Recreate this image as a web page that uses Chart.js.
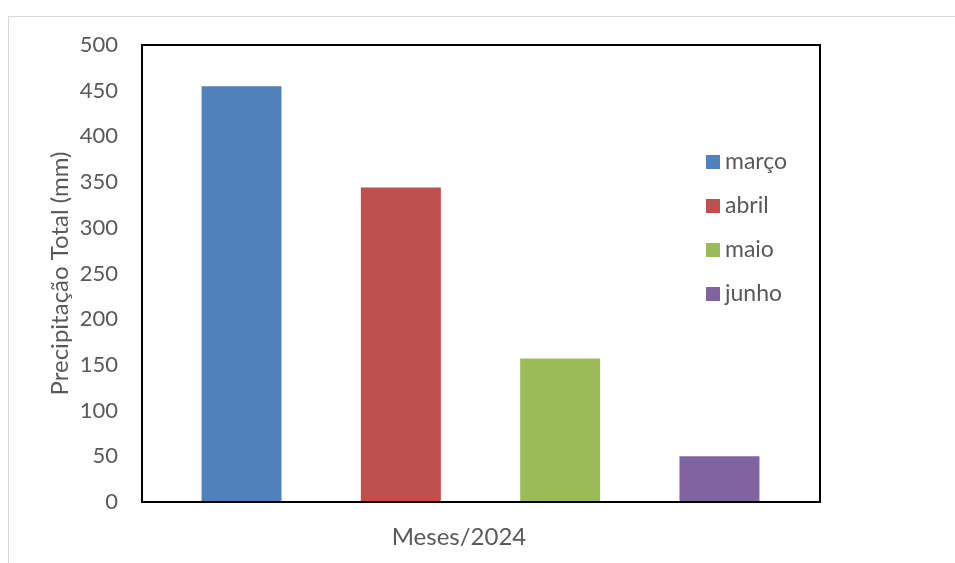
<!DOCTYPE html>
<html lang="pt">

<head>
    <meta charset="UTF-8">
    <title>Precipitação Total</title>
    <script src="https://cdn.jsdelivr.net/npm/chart.js"></script>
    <style>
        body {
            margin: 0;
            padding: 0;
            background: #fff;
            overflow: hidden;
        }

        .frame {
            position: absolute;
            left: 8px;
            top: 16px;
            width: 1000px;
            height: 600px;
            border: 1px solid #d9d9d9;
        }

        #chart {
            position: absolute;
            left: 0;
            top: 0;
        }
    </style>
</head>

<body>
    <div class="frame"></div>
    <canvas id="chart" width="955" height="563"></canvas>

    <script>
        // dados (mm)
        const months = ['março', 'abril', 'maio', 'junho'];
        const rainfall = [455, 344, 157, 50];
        const colors = ['#4F81BD', '#C0504D', '#9BBB59', '#8064A2'];
        const yTicks = [0, 50, 100, 150, 200, 250, 300, 350, 400, 450, 500];

        const textColor = '#595959';
        const family = 'Lato, "Open Sans", sans-serif';
        const tickFont = { family: family, size: 22 };
        const titleFont = { family: family, size: 24 };
        const legendSize = 23;

        // moldura da área do gráfico + legenda dentro da área
        const plotFrame = {
            id: 'plotFrame',
            afterDatasetsDraw(chart) {
                const { ctx, chartArea } = chart;
                ctx.save();
                ctx.strokeStyle = '#000';
                ctx.lineWidth = 2;
                ctx.strokeRect(chartArea.left + 1, chartArea.top, chartArea.right - chartArea.left - 1, chartArea.bottom - chartArea.top);
                ctx.restore();
            },
            afterDraw(chart) {
                const { ctx, chartArea } = chart;
                const x = chartArea.right - 114;
                const y0 = chartArea.top + 117;
                ctx.save();
                ctx.font = `${legendSize}px ${family}`;
                ctx.textBaseline = 'middle';
                chart.data.datasets.forEach((ds, i) => {
                    const y = y0 + i * 44;
                    ctx.fillStyle = ds.backgroundColor;
                    ctx.fillRect(x, y - 7, 14, 14);
                    ctx.fillStyle = textColor;
                    ctx.fillText(ds.label, x + 19, y);
                });
                ctx.restore();
            }
        };

        new Chart(document.getElementById('chart'), {
            type: 'bar',
            data: {
                labels: [''],
                datasets: months.map((m, i) => ({
                    label: m,
                    data: [rainfall[i]],
                    backgroundColor: colors[i],
                    categoryPercentage: 0.9385,
                    barPercentage: 0.502
                }))
            },
            options: {
                responsive: false,
                animation: false,
                layout: {
                    padding: { top: 45, right: 135, left: 0, bottom: 0 }
                },
                plugins: {
                    legend: { display: false },
                    tooltip: { enabled: false }
                },
                scales: {
                    x: {
                        grid: { display: false },
                        border: { display: false },
                        ticks: { display: false },
                        title: {
                            display: true,
                            text: 'Meses/2024       ',
                            color: textColor,
                            font: titleFont,
                            padding: { top: 0, bottom: 11 }
                        },
                        afterFit(scale) {
                            scale.height = 61;
                        }
                    },
                    y: {
                        min: 0,
                        max: 500,
                        afterBuildTicks(scale) {
                            scale.ticks = yTicks.map(v => ({ value: v }));
                        },
                        grid: { display: false, drawTicks: false },
                        border: { display: false },
                        ticks: {
                            color: textColor,
                            font: tickFont,
                            padding: 23
                        },
                        title: {
                            display: true,
                            text: 'Precipitação Total (mm)',
                            color: textColor,
                            font: titleFont,
                            padding: { top: 46, bottom: 0 }
                        },
                        afterFit(scale) {
                            scale.width = 141;
                        }
                    }
                }
            },
            plugins: [plotFrame]
        });
    </script>
</body>

</html>
